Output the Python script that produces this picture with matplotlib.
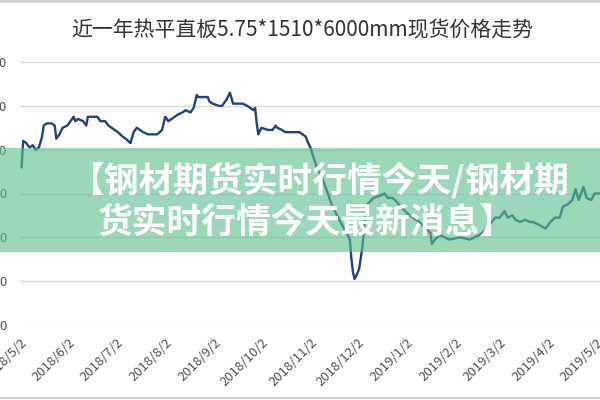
import matplotlib
matplotlib.use('Agg')
import matplotlib.pyplot as plt
from matplotlib.patches import Rectangle
from matplotlib.lines import Line2D
import pandas as pd

plt.rcParams['font.family'] = ['Noto Sans CJK SC', 'DejaVu Sans']

title = '近一年热平直板5.75*1510*6000mm现货价格走势'
banner_lines = ['【钢材期货实时行情今天/钢材期', '货实时行情今天最新消息】']

# 价格走势 (元/吨)
dates = [
    '2018-05-03', '2018-05-04', '2018-05-06', '2018-05-08', '2018-05-10', '2018-05-12',
    '2018-05-14', '2018-05-16', '2018-05-17', '2018-05-19', '2018-05-22', '2018-05-24',
    '2018-05-25', '2018-05-27', '2018-05-29', '2018-06-01', '2018-06-03', '2018-06-05',
    '2018-06-06', '2018-06-08', '2018-06-11', '2018-06-13', '2018-06-14', '2018-06-17',
    '2018-06-20', '2018-06-22', '2018-06-25', '2018-06-27', '2018-06-29', '2018-07-01',
    '2018-07-03', '2018-07-06', '2018-07-08', '2018-07-11', '2018-07-13', '2018-07-15',
    '2018-07-19', '2018-07-22', '2018-07-28', '2018-07-31', '2018-08-02', '2018-08-04',
    '2018-08-06', '2018-08-10', '2018-08-13', '2018-08-15', '2018-08-18', '2018-08-20',
    '2018-08-22', '2018-08-23', '2018-08-26', '2018-08-29', '2018-08-30', '2018-09-01',
    '2018-09-05', '2018-09-07', '2018-09-10', '2018-09-12', '2018-09-14', '2018-09-17',
    '2018-09-20', '2018-09-23', '2018-09-25', '2018-09-27', '2018-09-28', '2018-09-29',
    '2018-09-30', '2018-10-02', '2018-10-06', '2018-10-09', '2018-10-11', '2018-10-12',
    '2018-10-15', '2018-10-17', '2018-10-20', '2018-10-25', '2018-10-26', '2018-10-30',
    '2018-10-31', '2018-11-02', '2018-11-06', '2018-11-10', '2018-11-13', '2018-11-16',
    '2018-11-21', '2018-11-25', '2018-11-27', '2018-11-28', '2018-11-29', '2018-11-30',
    '2018-12-02', '2018-12-03', '2018-12-05', '2018-12-07', '2018-12-08', '2018-12-12',
    '2018-12-16', '2018-12-19', '2018-12-21', '2018-12-24', '2018-12-27', '2018-12-29',
    '2019-01-04', '2019-01-10', '2019-01-17', '2019-01-18', '2019-01-20', '2019-01-23',
    '2019-01-29', '2019-02-05', '2019-02-11', '2019-02-17', '2019-02-22', '2019-02-27',
    '2019-03-02', '2019-03-05', '2019-03-07', '2019-03-10', '2019-03-12', '2019-03-15',
    '2019-03-18', '2019-03-21', '2019-03-23', '2019-03-26', '2019-03-31', '2019-04-03',
    '2019-04-06', '2019-04-09', '2019-04-11', '2019-04-14', '2019-04-17', '2019-04-19',
    '2019-04-21', '2019-04-24', '2019-04-26', '2019-04-29', '2019-05-01', '2019-05-04',
]
prices = [
    4120, 4240, 4230, 4210, 4220, 4200,
    4210, 4260, 4310, 4320, 4320, 4310,
    4250, 4270, 4300, 4310, 4330, 4350,
    4330, 4340, 4330, 4310, 4350, 4350,
    4350, 4330, 4330, 4310, 4300, 4290,
    4280, 4260, 4250, 4230, 4280, 4300,
    4280, 4270, 4270, 4290, 4350, 4330,
    4340, 4360, 4370, 4380, 4370, 4390,
    4450, 4440, 4440, 4440, 4420, 4410,
    4400, 4400, 4430, 4460, 4410, 4410,
    4410, 4400, 4390, 4380, 4390, 4320,
    4270, 4300, 4290, 4290, 4310, 4300,
    4290, 4280, 4280, 4280, 4280, 4260,
    4240, 4210, 4120, 4060, 4000, 3940,
    3870, 3820, 3790, 3700, 3640, 3610,
    3640, 3660, 3760, 3910, 3950, 3980,
    3990, 4000, 3980, 3980, 3960, 3940,
    3900, 3870, 3820, 3770, 3790, 3810,
    3790, 3800, 3790, 3810, 3840, 3890,
    3890, 3920, 3890, 3900, 3880, 3870,
    3880, 3870, 3870, 3860, 3840, 3870,
    3890, 3890, 3940, 3950, 3970, 4020,
    3970, 4030, 3980, 3970, 4000, 4000,
]
tick_dates = ['2018-05-02', '2018-06-02', '2018-07-02', '2018-08-02', '2018-09-02',
              '2018-10-02', '2018-11-02', '2018-12-02', '2019-01-02', '2019-02-02',
              '2019-03-02', '2019-04-02', '2019-05-02']
y_ticks = [3400, 3600, 3800, 4000, 4200, 4400, 4600]

x = pd.to_datetime(dates)
ticks = pd.to_datetime(tick_dates)

fig = plt.figure(figsize=(6, 4), dpi=100)
ax = fig.add_axes([20 / 600, 75 / 400, 580 / 600, 263 / 400])

ax.plot(x, prices, color='#1F4380', lw=1.7, zorder=3)

ax.set_ylim(3400, 4600)
ax.set_yticks(y_ticks)
ax.set_xlim(pd.Timestamp('2018-05-02'), pd.Timestamp('2019-05-04 12:00'))
ax.set_xticks(ticks)
ax.set_xticklabels([d.strftime('%Y/%-m/%-d') for d in ticks], rotation=45,
                   ha='right', rotation_mode='anchor')
ax.tick_params(axis='both', length=0, labelsize=9.5, labelcolor='#505050')
ax.tick_params(axis='y', pad=9)
ax.tick_params(axis='x', pad=8)
ax.grid(axis='y', color='#D9D9D9', lw=1)
ax.set_axisbelow(True)
for s in ax.spines.values():
    s.set_visible(False)

fig.text(0.503, 0.925, title, ha='center', va='center', fontsize=15, color='#333333')

# 边框
fig.add_artist(Line2D([0, 1], [0.997, 0.997], color='#D0D0D0', lw=2, transform=fig.transFigure))
fig.add_artist(Line2D([0, 1], [0.004, 0.004], color='#D0D0D0', lw=1.5, transform=fig.transFigure))

# 绿色遮罩和标题
band = Rectangle((0, 148 / 400), 1, 104 / 400, transform=fig.transFigure,
                 facecolor='#5CC08C', alpha=0.62, edgecolor='none', zorder=5)
fig.add_artist(band)
fig.text(0.532, 0.55, banner_lines[0], ha='center', va='center', fontsize=25,
         fontweight='bold', color='white', zorder=6)
fig.text(0.51, 0.445, banner_lines[1], ha='center', va='center', fontsize=25,
         fontweight='bold', color='white', zorder=6)

fig.savefig('out.png', dpi=100)
